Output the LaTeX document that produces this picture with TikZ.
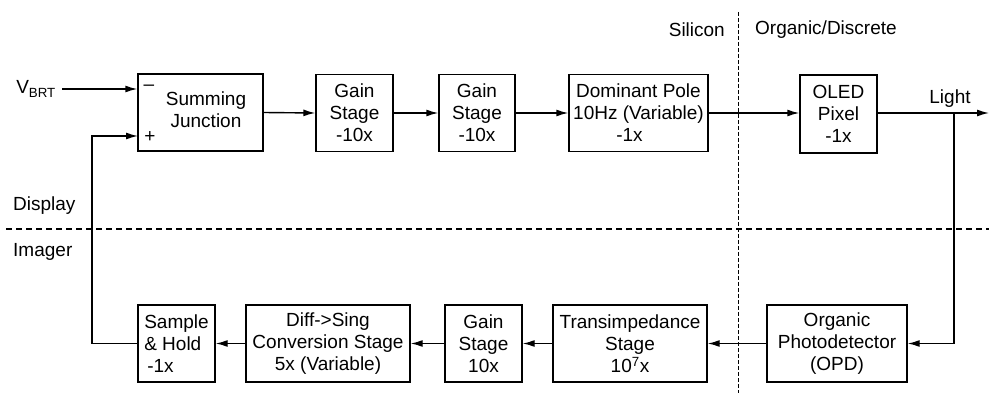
\documentclass[tikz,border=0pt]{standalone}
\usepackage{fontspec}
\setmainfont{Liberation Sans}
\usetikzlibrary{arrows.meta,calc}
\begin{document}
\begin{tikzpicture}[x=1pt,y=-1pt,
  font=\fontsize{19}{22}\selectfont,
  blk/.style={draw,line width=1.4pt,align=center,inner sep=1pt,minimum height=77pt},
  wire/.style={line width=1.4pt},
  arr/.style={line width=1.4pt,-{Latex[length=12pt,width=7pt]}},
  txt/.style={inner sep=0pt}]
\useasboundingbox (0,0) rectangle (989,393);
% top row
\node[blk,minimum width=125pt] (sum) at (200.5,112.5) {};
\node[txt,align=center] (sumtxt) at (206,110) {Summing\\Junction};
\node[txt] (minus) at (149,88) {–};
\node[txt] (plus) at (150,137) {+};
\node[blk,minimum width=77pt] (g1) at (354.5,113) {Gain\\Stage\\-10x};
\node[blk,minimum width=76pt] (g2) at (477,113) {Gain\\Stage\\-10x};
\node[blk,minimum width=139pt] (dp) at (638.5,113) {Dominant Pole\\10Hz (Variable)\\-1x\hspace*{18pt}};
\node[blk,minimum width=77pt,minimum height=78pt] (oled) at (838.5,114) {OLED\\Pixel\\-1x};
% bottom row
\node[blk,minimum width=77pt,align=left] (sh) at (176.5,343.5) {Sample\\\& Hold\\\hspace*{3pt}-1x};
\node[blk,minimum width=164pt] (ds) at (328,343.5) {Diff->Sing\\Conversion Stage\\5x (Variable)};
\node[blk,minimum width=77pt] (gb) at (483.5,343.5) {Gain\\Stage\\10x};
\node[blk,minimum width=154pt] (ti) at (630,343.5) {Transimpedance\\Stage\\10\textsuperscript{7}x};
\node[blk,minimum width=140pt] (opd) at (837,343.5) {Organic\\Photodetector\\(OPD)};
% labels
\node[txt,anchor=east] (vbrt) at (56,89) {V\textsubscript{BRT}};
\node[txt] (light) at (950,99) {Light};
\node[txt,anchor=west] (display) at (13,206) {Display};
\node[txt,anchor=west] (imager) at (13,252) {Imager};
\node[txt,anchor=east] (silicon) at (725,30) {Silicon};
\node[txt,anchor=west] (organic) at (755,30) {Organic/Discrete};
% coordinates
\coordinate (vin) at (62,89);
\coordinate (pin) at (138,136);
\coordinate (fb) at (92,136);
\coordinate (out) at (989,113);
\coordinate (br) at (954,113);
% dashed separators
\draw[line width=1.2pt,dash pattern=on 6pt off 4pt] (6,229) -- (989,229);
\draw[line width=0.8pt,dash pattern=on 4pt off 2pt] (738,12) -- (738,393);
% connectors top
\draw[arr] (vin) -- (vin -| sum.west);
\draw[arr] (sum.east) -- (g1.west);
\draw[arr] (g1.east) -- (g2.west);
\draw[arr] (g2.east) -- (dp.west);
\draw[arr] (dp.east) -- (dp.east -| oled.west);
\draw[arr] (oled.east |- out) -- (out);
\draw[arr] (br) |- (opd.east);
% connectors bottom
\draw[arr] (opd.west) -- (ti.east);
\draw[arr] (ti.west) -- (gb.east);
\draw[arr] (gb.west) -- (ds.east);
\draw[arr] (ds.west) -- (sh.east);
\draw[arr] (sh.west) -| (fb) -- (pin);
\end{tikzpicture}
\end{document}
